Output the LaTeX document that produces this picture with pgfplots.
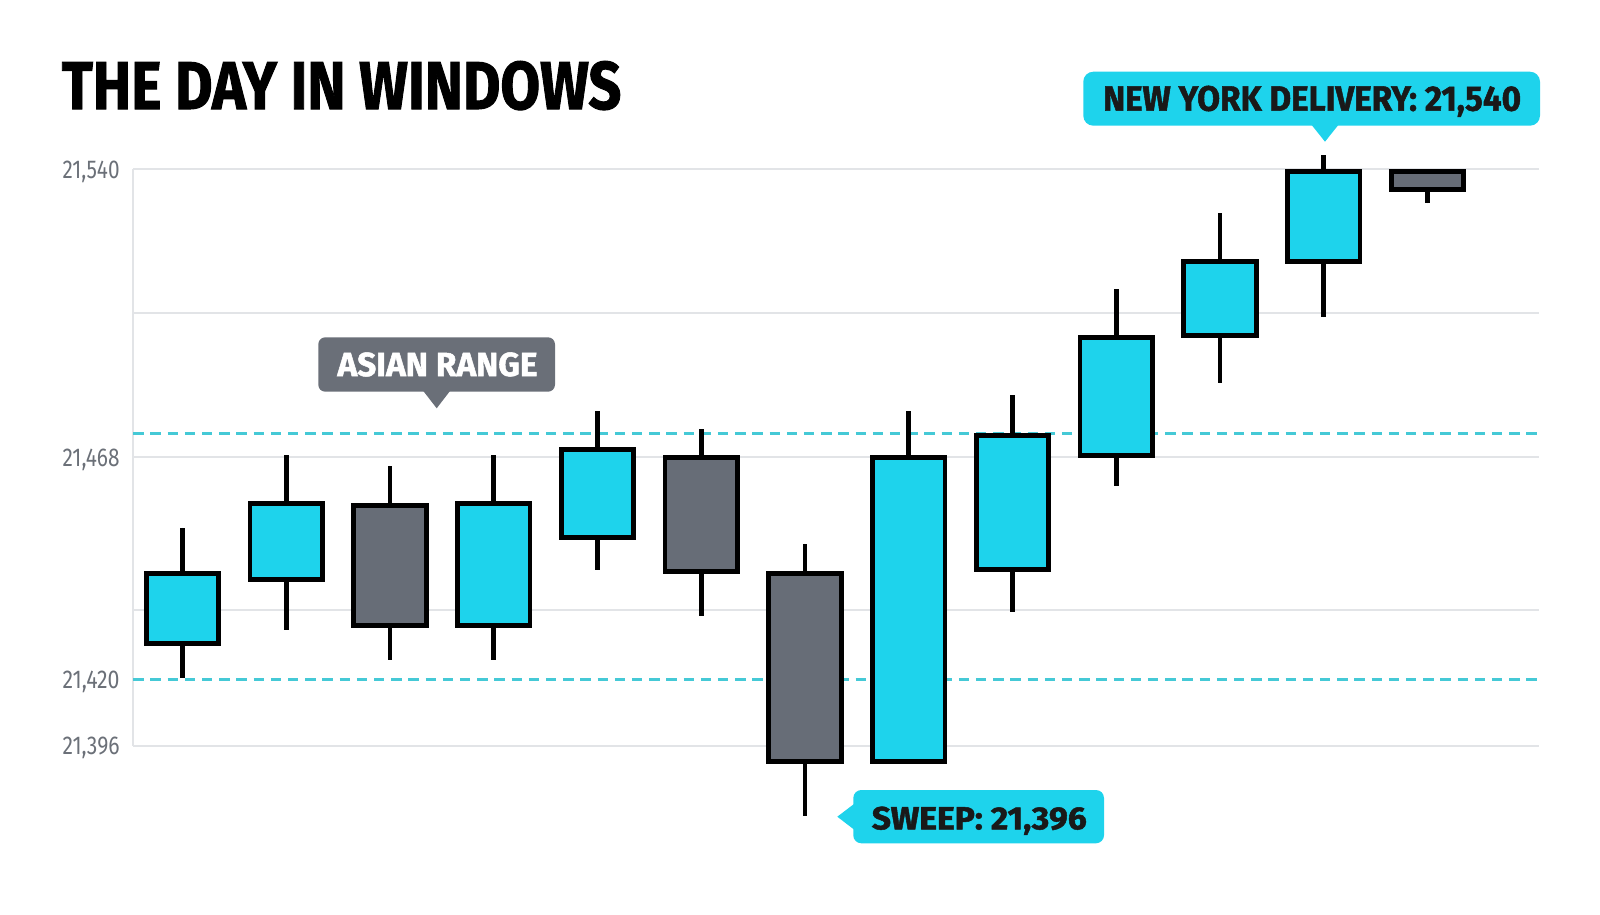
\documentclass[border=0pt]{standalone}
\usepackage{pgfplots}
\pgfplotsset{compat=1.18}
\usepackage{pgfplotstable}
\usepgfplotslibrary{statistics}
\usepackage{graphicx}
\usepackage{fontspec}
\setmainfont{Fira Sans}
\newfontfamily\heavyfont{Fira Sans}[BoldFeatures={FakeBold=1.5}]

\definecolor{upc}{HTML}{1ED3EC}
\definecolor{dnc}{HTML}{676D77}
\definecolor{lblgray}{HTML}{6A6F78}
\definecolor{dashc}{HTML}{45C9D6}
\definecolor{gridc}{HTML}{E2E4E7}
\definecolor{tickc}{HTML}{6B7078}

% one row per window: open high low close
\pgfplotstableread{
open    high    low     close
21421.5 21450.5 21413   21439
21437.5 21468.5 21425   21456.5
21456   21466   21417.5 21426
21426   21468.5 21417.5 21456.5
21448   21479.5 21440   21470
21468   21475   21428.5 21439.5
21439   21446.5 21378.5 21392
21392   21479.5 21392   21468
21440   21483.5 21429.5 21473.5
21468.5 21510   21461   21498
21498.5 21529   21486.5 21517
21517   21543.5 21503   21539.5
21539.5 21539.5 21531.5 21535
}\candles

\newcommand\tl[1]{\resizebox{14.25pt}{4.375pt}{#1}}

% candle from table row #1, fill #2, body from column #3 (bottom) to #4 (top)
\newcommand\candle[4]{%
  \pgfplotstablegetelem{#1}{low}\of\candles \let\cL\pgfplotsretval
  \pgfplotstablegetelem{#1}{high}\of\candles \let\cH\pgfplotsretval
  \pgfplotstablegetelem{#1}{#3}\of\candles \let\cB\pgfplotsretval
  \pgfplotstablegetelem{#1}{#4}\of\candles \let\cT\pgfplotsretval
  \pgfmathsetmacro\cX{#1+1}%
  \edef\doit{\noexpand\addplot [candle, fill=#2, boxplot prepared={draw position=\cX,
    lower whisker=\cL, upper whisker=\cH, lower quartile=\cB, upper quartile=\cT,
    median=\cB}] coordinates {};}%
  \doit}

\begin{document}
\begin{tikzpicture}
\useasboundingbox (0,0) rectangle (400pt,228.5pt);
\begin{axis}[
at={(33.3pt,26.05pt)}, anchor=south west,
scale only axis, width=351.45pt, height=170.15pt,
xmin=0.525, xmax=14.075, ymin=21380, ymax=21550,
axis line style={draw=none},
major tick length=0pt,
xtick=\empty,
scaled y ticks=false,
ytick={21396,21430,21468,21504,21540},
yticklabels={{\tl{21,396}},{},{\tl{21,468}},{},{\tl{21,540}}},
extra y ticks={21412.5},
extra y tick labels={{\tl{21,420}}},
extra y tick style={grid=none},
yticklabel style={anchor=base east, inner sep=0pt, xshift=-3.2pt, yshift=-2.19pt, text=tickc},
ymajorgrids,
major grid style={gridc, line width=0.5pt},
clip=false,
boxplot/draw direction=y,
boxplot/box extend=0.70,
boxplot/whisker extend=0,
candle/.style={draw=black, line width=1.2pt, solid},
]
\draw [gridc, line width=0.5pt] (axis cs:0.525,21396) -- (axis cs:0.525,21540);
\addplot [dashc, line width=0.6pt, dash pattern=on 2.6pt off 1.7pt] coordinates {(0.525,21474) (14.075,21474)};
\addplot [dashc, line width=0.6pt, dash pattern=on 2.6pt off 1.7pt] coordinates {(0.525,21412.5) (14.075,21412.5)};
% rising windows
\pgfplotsinvokeforeach{0,1,3,4,7,8,9,10,11}{\candle{#1}{upc}{open}{close}}
% falling windows
\pgfplotsinvokeforeach{2,5,6,12}{\candle{#1}{dnc}{close}{open}}
\end{axis}

% title and callouts, placed in reference pixels
\begin{scope}[x=0.25pt, y=-0.25pt, yshift=228.5pt]
\node [anchor=base west, inner sep=0pt] at (61,109)
  {\resizebox{139.875pt}{12pt}{\heavyfont\bfseries THE DAY IN WINDOWS}};

\fill [lblgray, rounded corners=1.75pt] (318.3,337.3) rectangle (555,391.7);
\fill [lblgray] (423.3,391) -- (450,391) -- (436.7,408.3) -- cycle;
\node [anchor=base west, inner sep=0pt, text=white] at (336.7,376)
  {\resizebox{50pt}{5.925pt}{\heavyfont\bfseries ASIAN RANGE}};

\fill [upc, rounded corners=2.5pt] (1083.3,71.7) rectangle (1540,125.7);
\fill [upc] (1311.7,125) -- (1338.3,125) -- (1325,141.7) -- cycle;
\node [anchor=base west, inner sep=0pt, text=black!90] at (1102.3,110.7)
  {\resizebox{104.5pt}{6.25pt}{\heavyfont\bfseries NEW YORK DELIVERY: 21,540}};

\fill [upc, rounded corners=2pt] (853.3,790) rectangle (1104,843.3);
\fill [upc] (854,804) -- (854,829.5) -- (837.3,816.7) -- cycle;
\node [anchor=base west, inner sep=0pt, text=black!90] at (871,829.3)
  {\resizebox{53.75pt}{5.675pt}{\heavyfont\bfseries SWEEP: 21,396}};
\end{scope}
\end{tikzpicture}
\end{document}
